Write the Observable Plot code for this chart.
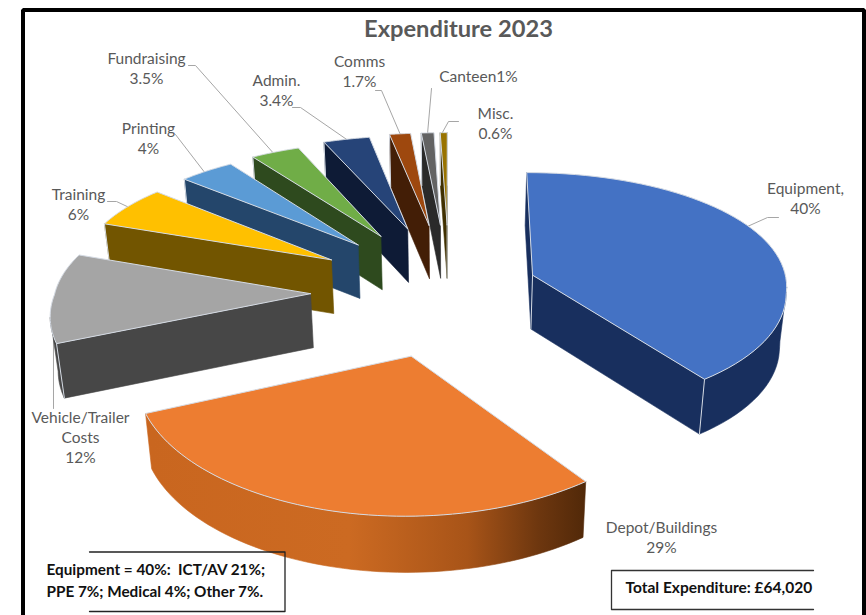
<!DOCTYPE html>
<html><head><meta charset="utf-8">
<script src="https://cdn.jsdelivr.net/npm/d3@7"></script>
<script src="https://cdn.jsdelivr.net/npm/@observablehq/plot@0.6"></script>
<style>html,body{margin:0;padding:0;background:#fff;overflow:hidden}svg{display:block}</style>
</head><body><div id="chart"></div>
<script>
// ---- data ----
const categories = ["Equipment","Depot/Buildings","Vehicle/Trailer Costs","Training","Printing","Fundraising","Admin.","Comms","Canteen","Misc."];
const values = [40.3, 28.8, 12, 6, 4, 3.5, 3.3, 1.5, 0.9, 0.5];
const explodeBy = [94, 128, 139, 143, 146, 150, 156, 160, 160, 160];
const explodeTurnDeg = [-8.5, 1, 2.5, 2, 1.5, 0, 0, 0, 0, 0];
const topColors = ["#4472C4","#ED7D31","#A5A5A5","#FFC000","#5B9BD5","#70AD47","#264478","#9E480E","#636363","#997300"];
const sideColors = ["#182F5E","url(#depotSide)","#474747","#725500","#24466B","#2E4A1E","#0E1B36","#431E06","#2A2A2A","#403000"];
const labels = [
  {lines:["Equipment,","40%"], at:[805,189]},
  {lines:["Depot/Buildings","29%"], at:[661,528]},
  {lines:["Vehicle/Trailer","Costs","12%"], at:[80,418]},
  {lines:["Training","6%"], at:[78,195]},
  {lines:["Printing","4%"], at:[148,129]},
  {lines:["Fundraising","3.5%"], at:[146,59]},
  {lines:["Admin.","3.4%"], at:[276,81]},
  {lines:["Comms","1.7%"], at:[359,62]},
  {lines:["Canteen1%"], at:[478,77]},
  {lines:["Misc.","0.6%"], at:[495,114]}
];
const leaders = [
  {slice:0, t:.44, from:[[778,217],[767,217]]},
  {slice:2, t:.08, from:[[53,408]]},
  {slice:3, t:.5, from:[[107,201],[116,201]]},
  {slice:4, t:.45, from:[[175,134]]},
  {slice:5, t:.45, from:[[188,65],[195,65]]},
  {slice:6, t:.5, from:[[292,107],[300,107]]},
  {slice:7, t:.5, from:[[375,90],[381,90]]},
  {slice:8, t:.5, from:[[431,88]]},
  {slice:9, t:.3, from:[[458,121],[448,121]]}
];
const noteLeft = ["Equipment = 40%:  ICT/AV 21%;","PPE 7%; Medical 4%; Other 7%."];
const noteRight = "Total Expenditure: £64,020";
const title = "Expenditure 2023";

// ---- 3-D pie model ----
const cx = 449, cy = 294, R = 256, tilt = .47, depth = 54;
const total = d3.sum(values);
function project(X, Y, low) {
  const sy = Y < 0 ? 1 / (1 - .0005 * Y) : 1 / (1 - .00052 * Y);
  const sx = Y < 0 ? 1 / (1 - .0003 * Y) : 1 / (1 - .00048 * Y);
  const shrink = low ? .98 : 1;
  return {
    x: cx + X * sx * shrink,
    y: cy + tilt * Y * sy * shrink + (low ? depth * (1 + .5 * (sy - 1)) : 0)
  };
}
let run = 0;
const slices = values.map((v, i) => {
  const a0 = run / total * 2 * Math.PI; run += v;
  const a1 = run / total * 2 * Math.PI;
  const mid = (a0 + a1) / 2;
  const dir = mid + explodeTurnDeg[i] * Math.PI / 180;
  return {i, a0, a1, mid, ox: explodeBy[i] * Math.sin(dir), oy: -explodeBy[i] * Math.cos(dir)};
});
const rim = (s, a, low) => project(s.ox + R * Math.sin(a), s.oy - R * Math.cos(a), low);
const apex = (s, low) => project(s.ox, s.oy, low);
const arcAngles = s => d3.range(0, 61).map(k => s.a0 + (s.a1 - s.a0) * k / 60);
// a wall under edge p→q shows when the slice's inside lies above that edge on screen
const shows = (p, q, m) => {
  const ex = q.x - p.x, ey = q.y - p.y;
  return (ex * 1) * (ex * (m.y - p.y) - ey * (m.x - p.x)) < 0;
};
const closed = pts => [...pts, pts[0]];

function sliceMarks(s) {
  const top = [apex(s), ...arcAngles(s).map(a => rim(s, a))];
  const inner = {x: d3.mean(top, d => d.x), y: d3.mean(top, d => d.y)};
  const side = sideColors[s.i];
  const marks = [];
  const wall = pts => marks.push(Plot.line(closed(pts), {x:"x", y:"y", fill:side, stroke:side, strokeWidth:.6}));
  const edge = (p, q) => marks.push(Plot.line([p, q], {x:"x", y:"y", stroke:"#d5dbe4", strokeWidth:1}));
  const A = apex(s), AL = apex(s, true);
  const P0 = rim(s, s.a0), P0L = rim(s, s.a0, true), P1 = rim(s, s.a1), P1L = rim(s, s.a1, true);
  const show0 = shows(A, P0, inner), show1 = shows(A, P1, inner);
  if (show0) wall([A, P0, P0L, AL]);
  if (show1) wall([A, P1, P1L, AL]);
  // outer wall: only the stretch of the rim facing the viewer
  const angles = arcAngles(s);
  let stretch = [];
  const flush = () => {
    if (stretch.length > 1) wall([...stretch.map(a => rim(s, a)), ...stretch.slice().reverse().map(a => rim(s, a, true))]);
    stretch = [];
  };
  for (let k = 0; k < angles.length - 1; k++) {
    if (shows(rim(s, angles[k]), rim(s, angles[k + 1]), inner)) {
      if (!stretch.length) stretch.push(angles[k]);
      stretch.push(angles[k + 1]);
    } else flush();
  }
  flush();
  if (show1) edge(P1, P1L);
  if (show0 && s.i !== 0) edge(P0, P0L);
  if (s.i === 0 || show1) edge(A, AL);
  marks.push(Plot.line(closed(top), {x:"x", y:"y", fill:topColors[s.i], stroke:"#d5dbe4", strokeWidth:1, strokeLinejoin:"round"}));
  return marks;
}

const painted = slices.slice().sort((a, b) => -Math.cos(a.mid) - -Math.cos(b.mid));

const leaderMarks = leaders.map(l => {
  const s = slices[l.slice];
  const end = rim(s, s.a0 + (s.a1 - s.a0) * l.t);
  return Plot.line([...l.from.map(([x, y]) => ({x, y})), end], {x:"x", y:"y", stroke:"#a6a6a6", strokeWidth:1});
});

const labelRows = labels.flatMap(l => l.lines.map((text, k) => ({text, x:l.at[0], y:l.at[1] + 20 * k})));
const defs = () => {
  const d = d3.create("svg:defs");
  const g = d.append("linearGradient").attr("id", "depotSide").attr("gradientUnits", "userSpaceOnUse")
    .attr("x1", 150).attr("x2", 590).attr("y1", 0).attr("y2", 0);
  [[0,"#C9661F"],[.45,"#CC6A22"],[.72,"#A85418"],[.88,"#6E370F"],[1,"#4E2708"]]
    .forEach(([o, c]) => g.append("stop").attr("offset", o).attr("stop-color", c));
  return d.node();
};
const pt = (x, y) => ({x, y});
const font = "Lato, 'Open Sans', sans-serif";

const plot = Plot.plot({
  width: 866, height: 615, margin: 0,
  x: {domain:[0,866], range:[0,866], axis:null},
  y: {domain:[0,615], range:[0,615], axis:null},
  marks: [
    defs,
    ...leaderMarks,
    ...painted.flatMap(sliceMarks),
    Plot.line([pt(22.5,615),pt(22.5,9.5),pt(863.5,9.5),pt(863.5,615)], {x:"x", y:"y", stroke:"#000", strokeWidth:4, strokeLinejoin:"miter"}),
    Plot.line([pt(89,551.5),pt(284.5,551.5),pt(284.5,611),pt(89,611)], {x:"x", y:"y", stroke:"#222", strokeWidth:1.3}),
    Plot.line([pt(813,570),pt(611,570),pt(611,609),pt(813,609)], {x:"x", y:"y", stroke:"#333", strokeWidth:1.3}),
    Plot.text(labelRows, {x:"x", y:"y", text:"text", fill:"#595959", fontSize:15.5, fontFamily:font, lineAnchor:"middle"}),
    Plot.text([title], {x:()=>458, y:()=>29, text:d=>d, fill:"#595959", fontSize:23.7, fontWeight:700, fontFamily:font, lineAnchor:"middle"}),
    Plot.text(noteLeft, {x:()=>46, y:(d,i)=>570+22*i, text:d=>d, textAnchor:"start", fill:"#111", fontSize:15.3, fontWeight:700, fontFamily:font, lineAnchor:"middle"}),
    Plot.text([noteRight], {x:()=>625, y:()=>588, text:d=>d, textAnchor:"start", fill:"#111", fontSize:15.5, fontWeight:700, fontFamily:font, lineAnchor:"middle"})
  ]
});
document.getElementById("chart").append(plot);
</script></body></html>
